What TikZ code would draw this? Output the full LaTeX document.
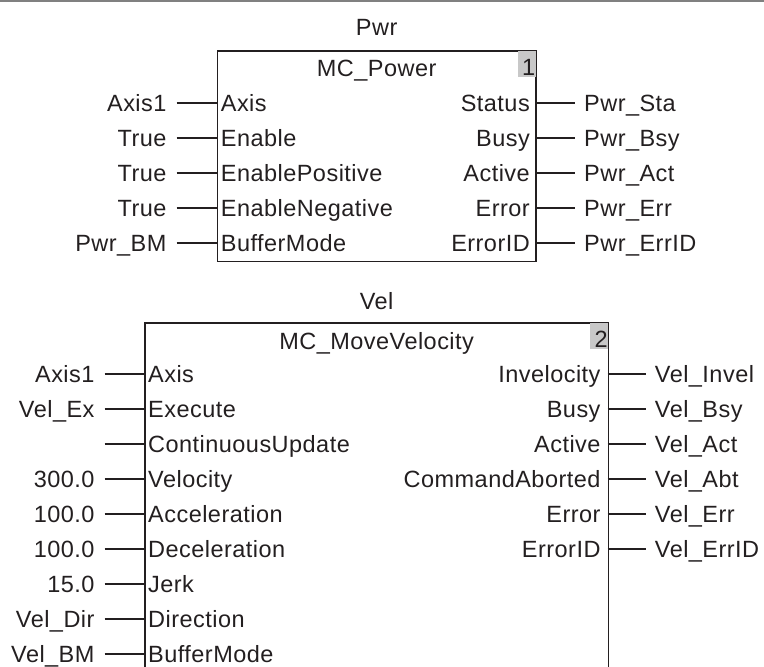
\documentclass[tikz,border=0pt]{standalone}
\usepackage{fontspec}
\setmainfont{Liberation Sans}[LetterSpace=2.0]
\definecolor{ink}{HTML}{231F20}
\definecolor{cellgrey}{HTML}{C8C8C8}
\definecolor{rulegrey}{HTML}{808080}
\begin{document}
\begin{tikzpicture}[x=1pt,y=-1pt,
  every node/.style={font=\fontsize{23.5}{28}\selectfont, text=ink},
  txt/.style={inner ysep=0pt, text height=21.5pt, text depth=4.7pt},
  inlab/.style={txt, anchor=east, inner xsep=10pt},
  outlab/.style={txt, anchor=west, inner xsep=9pt},
  inport/.style={txt, anchor=west, inner xsep=4pt},
  outport/.style={txt, anchor=east, inner xsep=5pt},
  fbbox/.style={draw=ink, line width=1.6pt, anchor=north west, inner sep=0pt},
  numcell/.style={fill=cellgrey, anchor=north east, minimum width=18pt, minimum height=25.5pt, inner sep=0pt, text width=17pt, align=right, text height=23pt, text depth=0pt},
  wire/.style={draw=ink, line width=1.2pt},
]
\useasboundingbox (0,0) rectangle (764,667);
\clip (0,0) rectangle (764,667);
\draw[rulegrey, line width=2pt] (0,1) -- (764,1);

% ---------- MC_Power ----------
\node[fbbox, minimum width=318.3pt, minimum height=210.7pt] (fb1) at (216.7,50) {};
\node[numcell] (num1) at ([xshift=-0.8pt,yshift=-0.8pt]fb1.north east) {1};
\node[txt] (title1) at ([yshift=-18pt]fb1.north) {MC\_Power};
\node[txt] (inst1) at ([yshift=22.5pt]fb1.north) {Pwr};
\foreach \i/\pn/\val in {0/Axis/Axis1,1/Enable/True,2/EnablePositive/True,3/EnableNegative/True,4/BufferMode/Pwr\_BM}{
  \coordinate (fb1in\i) at (216.7,{103+35*\i});
  \node[inport] (fb1ip\i) at (fb1in\i) {\pn};
  \node[inlab] (fb1iv\i) at ([xshift=-40pt]fb1in\i) {\val};
  \draw[wire] (fb1iv\i.east) -- (fb1in\i);
}
\foreach \i/\pn/\val in {0/Status/Pwr\_Sta,1/Busy/Pwr\_Bsy,2/Active/Pwr\_Act,3/Error/Pwr\_Err,4/ErrorID/Pwr\_ErrID}{
  \coordinate (fb1out\i) at (535,{103+35*\i});
  \node[outport] (fb1op\i) at (fb1out\i) {\pn};
  \node[outlab] (fb1ov\i) at ([xshift=40pt]fb1out\i) {\val};
  \draw[wire] (fb1out\i) -- (fb1ov\i.west);
}

% ---------- MC_MoveVelocity ----------
\node[fbbox, minimum width=463.7pt, minimum height=420pt] (fb2) at (144,322.3) {};
\node[numcell] (num2) at ([xshift=-0.8pt,yshift=-0.8pt]fb2.north east) {2};
\node[txt] (title2) at ([yshift=-18.5pt]fb2.north) {MC\_MoveVelocity};
\node[txt] (inst2) at ([yshift=21.6pt]fb2.north) {Vel};
\foreach \i/\pn/\val in {0/Axis/Axis1,1/Execute/Vel\_Ex,2/ContinuousUpdate/,3/Velocity/300.0,4/Acceleration/100.0,5/Deceleration/100.0,6/Jerk/15.0,7/Direction/Vel\_Dir,8/BufferMode/Vel\_BM}{
  \coordinate (fb2in\i) at (144,{374+35*\i});
  \node[inport] (fb2ip\i) at (fb2in\i) {\pn};
  \node[inlab] (fb2iv\i) at ([xshift=-39.3pt]fb2in\i) {\val};
  \draw[wire] (fb2iv\i.east) -- (fb2in\i);
}
\foreach \i/\pn/\val in {0/Invelocity/Vel\_Invel,1/Busy/Vel\_Bsy,2/Active/Vel\_Act,3/CommandAborted/Vel\_Abt,4/Error/Vel\_Err,5/ErrorID/Vel\_ErrID}{
  \coordinate (fb2out\i) at (607.7,{374+35*\i});
  \node[outport, inner xsep=7pt] (fb2op\i) at (fb2out\i) {\pn};
  \node[outlab] (fb2ov\i) at ([xshift=38pt]fb2out\i) {\val};
  \draw[wire] (fb2out\i) -- (fb2ov\i.west);
}
\end{tikzpicture}
\end{document}
